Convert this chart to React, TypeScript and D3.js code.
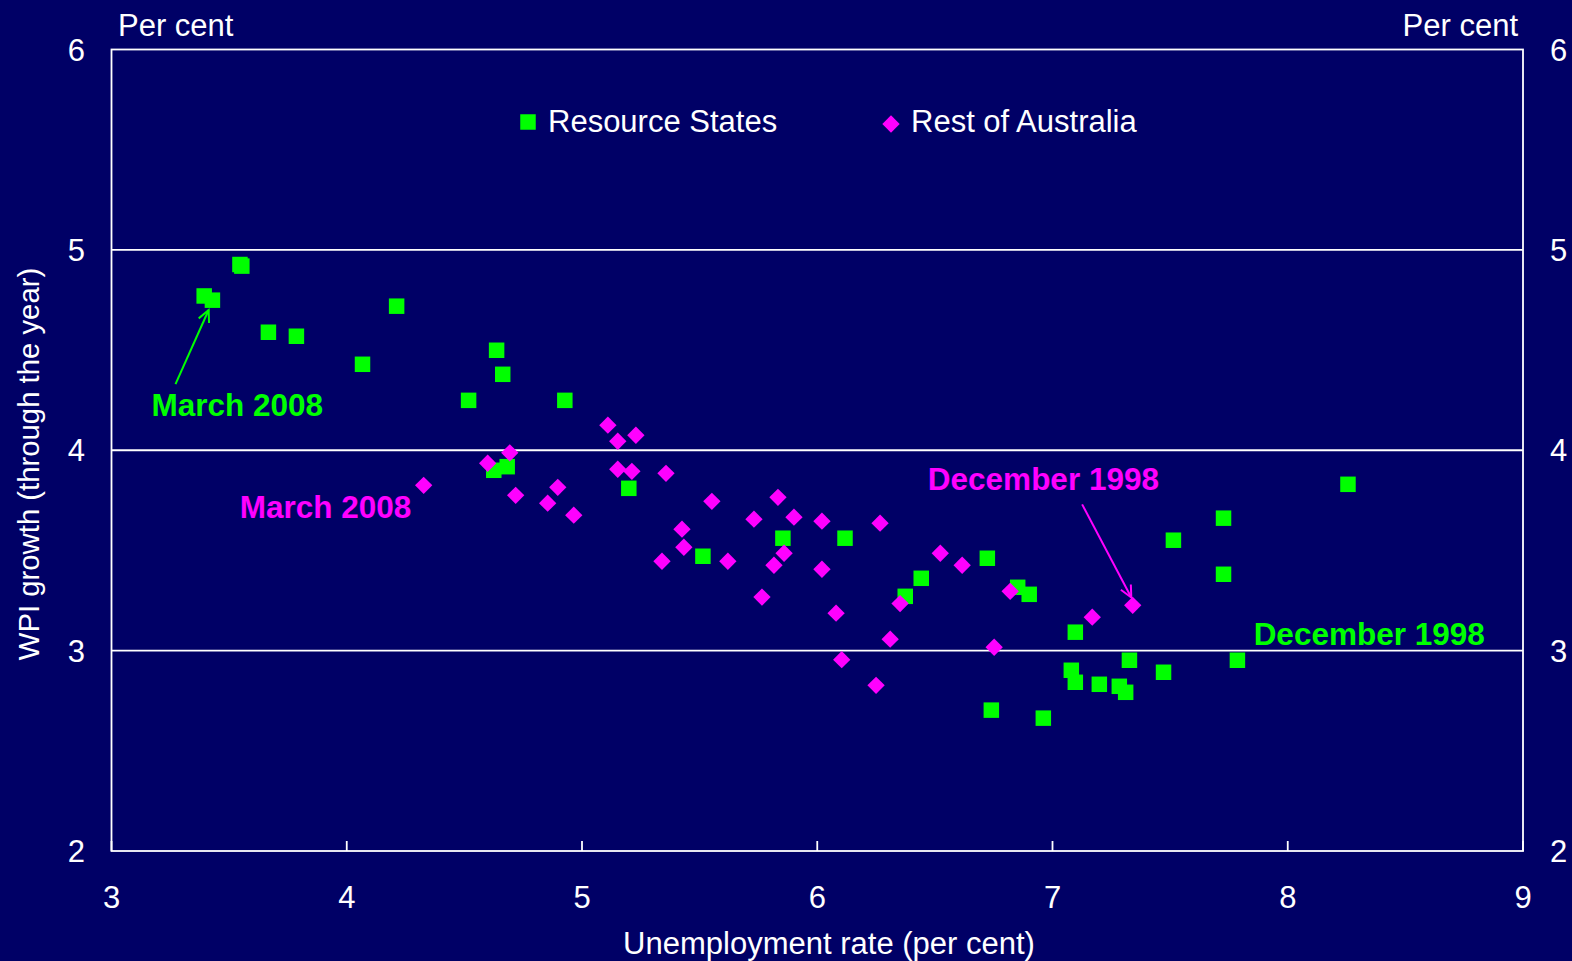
import React from "react";
import * as d3 from "d3";

const resourceX = [3.546, 3.554, 3.394, 3.429, 3.667, 3.786, 4.212, 4.067, 4.637, 4.663, 4.518, 4.927, 4.625, 4.682, 5.199, 5.514, 5.854, 6.118, 6.442, 6.374, 6.723, 6.852, 6.901, 6.74, 6.961, 7.097, 7.08, 7.097, 7.199, 7.284, 7.311, 7.327, 7.472, 7.514, 7.727, 7.727, 7.786, 8.256];
const resourceY = [4.927, 4.919, 4.77, 4.749, 4.589, 4.569, 4.719, 4.429, 4.499, 4.379, 4.249, 4.249, 3.9, 3.918, 3.81, 3.471, 3.561, 3.561, 3.361, 3.271, 3.461, 3.316, 3.281, 2.703, 2.663, 3.092, 2.902, 2.842, 2.832, 2.822, 2.792, 2.952, 2.892, 3.551, 3.661, 3.381, 2.952, 3.83];

const restX = [5.11, 5.152, 5.229, 4.693, 4.599, 5.152, 5.212, 5.357, 4.718, 4.897, 4.854, 4.965, 5.552, 5.833, 5.731, 5.901, 6.02, 6.267, 5.425, 5.433, 5.34, 5.62, 5.859, 5.816, 6.02, 5.765, 6.08, 6.352, 4.327, 6.523, 6.616, 6.31, 6.82, 6.752, 6.25, 7.169, 7.341, 6.104];
const restY = [4.125, 4.045, 4.075, 3.987, 3.935, 3.905, 3.895, 3.885, 3.775, 3.815, 3.736, 3.676, 3.745, 3.765, 3.656, 3.666, 3.646, 3.636, 3.606, 3.516, 3.446, 3.446, 3.486, 3.426, 3.406, 3.267, 3.187, 3.235, 3.825, 3.486, 3.426, 3.057, 3.296, 3.017, 2.827, 3.167, 3.226, 2.955];

const xTicks = [3, 4, 5, 6, 7, 8, 9];
const yTicks = [2, 3, 4, 5, 6];
const gridValues = [3, 4, 5];

const seriesNames = ["Resource States", "Rest of Australia"];
// annotations: label anchor, arrow start & end in data units
const annotGreenMarch = { text: "March 2008", x: 3.17, y: 4.17, from: [3.272, 4.33], to: [3.413, 4.7] };
const annotPinkMarch = { text: "March 2008", x: 3.545, y: 3.66, from: null, to: null };
const annotPinkDec = { text: "December 1998", x: 6.47, y: 3.8, from: [7.126, 3.73], to: [7.335, 3.265] };
const annotGreenDec = { text: "December 1998", x: 7.855, y: 3.03, from: null, to: null };

const W = 1572;
const H = 961;
const BG = "#000066";
const GREEN = "#00ff00";
const PINK = "#ff00ff";
const FONT = "'Liberation Sans', Arial, sans-serif";

export default function App() {
  const x = d3.scaleLinear().domain([3, 9]).range([111.5, 1523]);
  const y = d3.scaleLinear().domain([2, 6]).range([851, 49.5]);
  const square = d3.symbol(d3.symbolSquare, 240)();
  const diamond = d3.symbol(d3.symbolSquare, 150)();
  const x0 = x.range()[0], x1 = x.range()[1];
  const y0 = y.range()[0], y1 = y.range()[1];

  const arrow = (from: number[], to: number[], color: string) => {
    const fx = x(from[0]), fy = y(from[1]), tx = x(to[0]), ty = y(to[1]);
    const ang = Math.atan2(ty - fy, tx - fx);
    const L = 13, a = 0.45;
    const p1 = [tx - L * Math.cos(ang - a), ty - L * Math.sin(ang - a)];
    const p2 = [tx - L * Math.cos(ang + a), ty - L * Math.sin(ang + a)];
    return (
      <g stroke={color} strokeWidth={2} fill="none">
        <line x1={fx} y1={fy} x2={tx} y2={ty} />
        <polyline points={`${p1[0]},${p1[1]} ${tx},${ty} ${p2[0]},${p2[1]}`} />
      </g>
    );
  };

  return (
    <div style={{ position: "absolute", left: 0, top: 0 }}>
      <svg width={W} height={H} style={{ display: "block" }} fontFamily={FONT}>
        <rect x={0} y={0} width={W} height={H} fill={BG} />
        {gridValues.map((v) => (
          <line key={v} x1={x0} x2={x1} y1={y(v)} y2={y(v)} stroke="#ffffff" strokeWidth={1.8} />
        ))}
        <rect x={x0} y={y1} width={x1 - x0} height={y0 - y1} fill="none" stroke="#ffffff" strokeWidth={1.8} />
        {xTicks.map((t) => (
          <line key={t} x1={x(t)} x2={x(t)} y1={y0} y2={y0 - 10} stroke="#ffffff" strokeWidth={1.8} />
        ))}
        {xTicks.map((t) => (
          <text key={t} x={x(t)} y={908} fill="#ffffff" fontSize={31} textAnchor="middle">{t}</text>
        ))}
        {yTicks.map((t) => (
          <text key={"l" + t} x={85} y={y(t) + 11} fill="#ffffff" fontSize={31} textAnchor="end">{t}</text>
        ))}
        {yTicks.map((t) => (
          <text key={"r" + t} x={1550} y={y(t) + 11} fill="#ffffff" fontSize={31} textAnchor="start">{t}</text>
        ))}
        <text x={118} y={36} fill="#ffffff" fontSize={31}>Per cent</text>
        <text x={1518} y={36} fill="#ffffff" fontSize={31} textAnchor="end">Per cent</text>
        <text x={829} y={954} fill="#ffffff" fontSize={31} textAnchor="middle">Unemployment rate (per cent)</text>
        <text transform={`translate(39, ${464}) rotate(-90)`} fill="#ffffff" fontSize={29.3} textAnchor="middle">WPI growth (through the year)</text>

        {/* legend */}
        <path d={square} transform="translate(528,122)" fill={GREEN} />
        <text x={548} y={132} fill="#ffffff" fontSize={31}>{seriesNames[0]}</text>
        <path d={diamond} transform="translate(891,124) rotate(45)" fill={PINK} />
        <text x={911} y={132} fill="#ffffff" fontSize={31}>{seriesNames[1]}</text>

        {resourceX.map((v, i) => (
          <path key={"g" + i} d={square} transform={`translate(${x(v)},${y(resourceY[i])})`} fill={GREEN} />
        ))}
        {restX.map((v, i) => (
          <path key={"p" + i} d={diamond} transform={`translate(${x(v)},${y(restY[i])}) rotate(45)`} fill={PINK} />
        ))}

        <text x={x(annotGreenMarch.x)} y={y(annotGreenMarch.y)} fill={GREEN} fontSize={31.5} fontWeight="bold">{annotGreenMarch.text}</text>
        {arrow(annotGreenMarch.from as number[], annotGreenMarch.to as number[], GREEN)}
        <text x={x(annotPinkMarch.x)} y={y(annotPinkMarch.y)} fill={PINK} fontSize={31.5} fontWeight="bold">{annotPinkMarch.text}</text>
        <text x={x(annotPinkDec.x)} y={y(annotPinkDec.y)} fill={PINK} fontSize={31.5} fontWeight="bold">{annotPinkDec.text}</text>
        {arrow(annotPinkDec.from as number[], annotPinkDec.to as number[], PINK)}
        <text x={x(annotGreenDec.x)} y={y(annotGreenDec.y)} fill={GREEN} fontSize={31.5} fontWeight="bold">{annotGreenDec.text}</text>
      </svg>
    </div>
  );
}
